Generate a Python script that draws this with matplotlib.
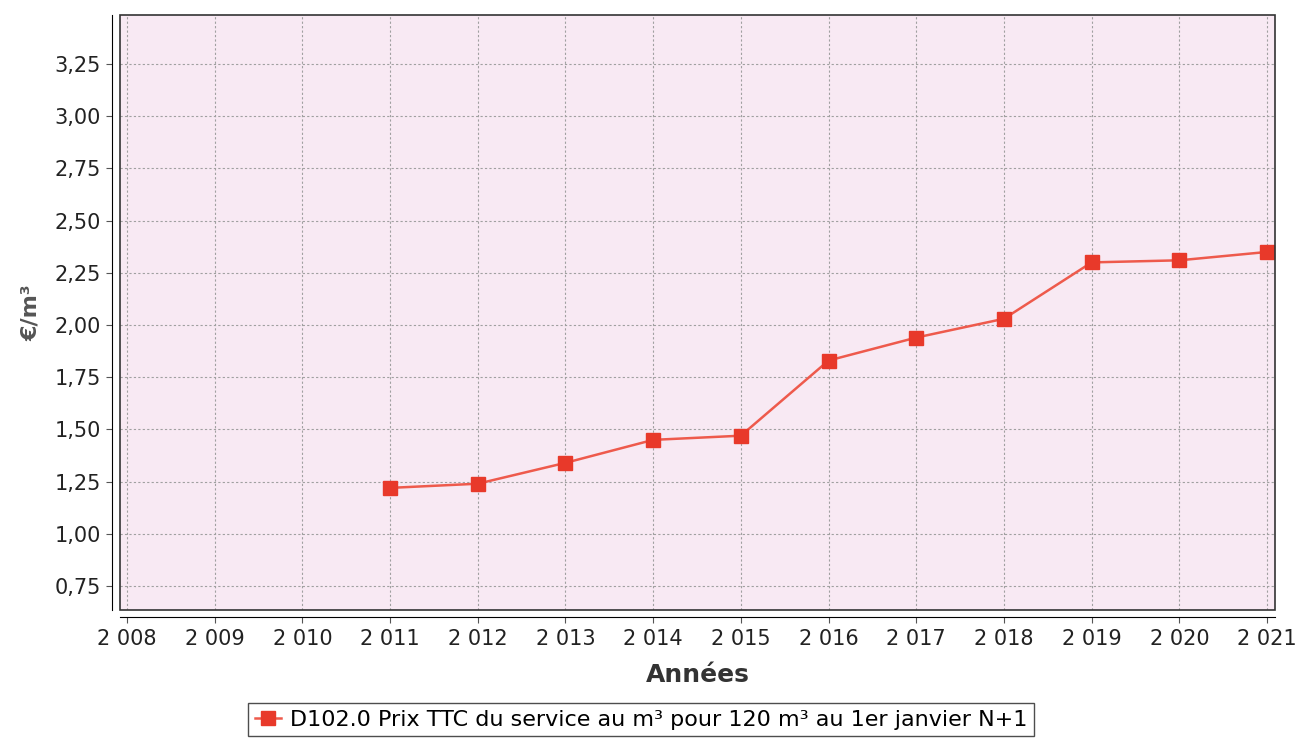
import matplotlib.pyplot as plt
from matplotlib.ticker import FuncFormatter, MultipleLocator
from matplotlib.patches import Rectangle

years = [2011, 2012, 2013, 2014, 2015, 2016, 2017, 2018, 2019, 2020, 2021]
prix = [1.22, 1.24, 1.34, 1.45, 1.47, 1.83, 1.94, 2.03, 2.30, 2.31, 2.35]
label = "D102.0 Prix TTC du service au m³ pour 120 m³ au 1er janvier N+1"


def fmt_year(v, pos):
    s = f"{int(round(v)):d}"
    return s[0] + " " + s[1:]


def fmt_val(v, pos):
    return f"{v:.2f}".replace(".", ",")


fig = plt.figure(figsize=(12.97, 7.38), dpi=100)
ax = fig.add_axes([0.0925, 0.1734, 0.8905, 0.8063])
ax.set_facecolor("#f8e9f3")

line, = ax.plot(years, prix, color="#ee5a4c", linewidth=1.8, marker="s",
                markersize=10, markerfacecolor="#e8392a", markeredgecolor="#e8392a",
                label=label, zorder=3)

ax.set_xlim(2007.92, 2021.09)
ax.set_ylim(0.635, 3.485)
ax.xaxis.set_major_locator(MultipleLocator(1))
ax.xaxis.set_major_formatter(FuncFormatter(fmt_year))
ax.yaxis.set_major_formatter(FuncFormatter(fmt_val))
ax.set_yticks([0.75, 1.0, 1.25, 1.5, 1.75, 2.0, 2.25, 2.5, 2.75, 3.0, 3.25])

ax.grid(True, color="#a0a0a0", linestyle=(0, (2, 2)), linewidth=0.8)

# axis lines offset from the plot border
ax.spines["top"].set_visible(False)
ax.spines["right"].set_visible(False)
ax.spines["left"].set_position(("outward", 6))
ax.spines["bottom"].set_position(("outward", 5))
ax.add_patch(Rectangle((0, 0), 1, 1, transform=ax.transAxes, fill=False,
                       edgecolor="#333333", linewidth=1.2, clip_on=False, zorder=4))

ax.tick_params(axis="both", labelsize=15, length=4, color="#555555", labelcolor="#222222")
ax.tick_params(axis="x", pad=5)
ax.set_xlabel("Années", fontsize=18, fontweight="bold", color="#333333", labelpad=10)
ax.set_ylabel("€/m³", fontsize=16, fontweight="bold", color="#555555", labelpad=10)

fig.legend(handles=[line], loc="upper center", bbox_to_anchor=(641 / 1297, 1 - 703 / 738),
           fontsize=16, frameon=True, fancybox=False, edgecolor="#222222",
           handlelength=1.2, handletextpad=0.4, borderpad=0.3, borderaxespad=0)

fig.savefig("out.png", dpi=100)
